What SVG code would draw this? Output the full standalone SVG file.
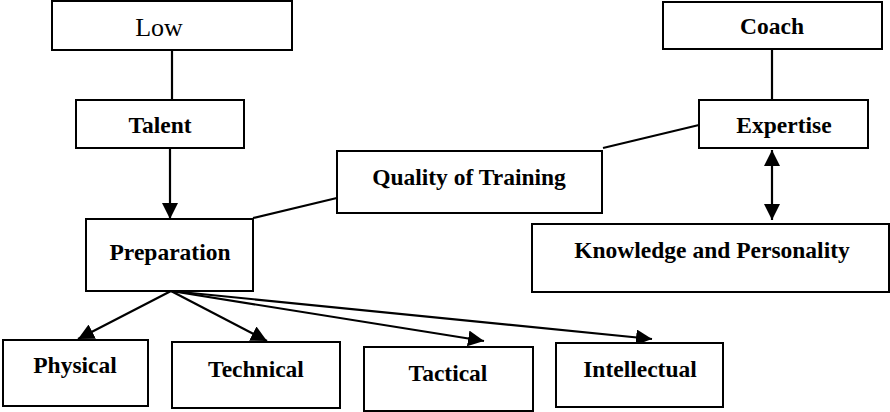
<svg xmlns="http://www.w3.org/2000/svg" width="890" height="412" viewBox="0 0 890 412">
  <style>
    .box { fill: #ffffff; stroke: #000000; stroke-width: 2; }
    .lbl { font-family: "Liberation Serif", "Times New Roman", serif; font-size: 23.5px; font-weight: bold; fill: #000000; text-anchor: middle; }
    .plain { font-family: "Liberation Serif", "Times New Roman", serif; font-size: 26px; fill: #000000; text-anchor: middle; }
    .link { fill: none; stroke: #000000; stroke-width: 2.2; }
  </style>
  <defs>
    <marker id="head" viewBox="0 0 16 16" refX="16" refY="8" markerWidth="16" markerHeight="16" markerUnits="userSpaceOnUse" orient="auto-start-reverse">
      <path d="M0,0 L16,8 L0,16 Z" fill="#000000"/>
    </marker>
  </defs>

  <rect width="890" height="412" fill="#ffffff"/>

  <g id="connectors">
    <line class="link" x1="172" y1="50" x2="172" y2="100"/>
    <line class="link" x1="170" y1="148" x2="170" y2="219" marker-end="url(#head)"/>
    <line class="link" x1="253" y1="218" x2="341" y2="197"/>
    <line class="link" x1="772" y1="49" x2="772" y2="100"/>
    <line class="link" x1="699" y1="125" x2="603" y2="148"/>
    <line class="link" x1="772" y1="150" x2="772" y2="220" marker-start="url(#head)" marker-end="url(#head)"/>
    <line class="link" x1="171" y1="291" x2="78" y2="339" marker-end="url(#head)"/>
    <line class="link" x1="171" y1="291" x2="267" y2="341" marker-end="url(#head)"/>
    <line class="link" x1="171" y1="291" x2="484" y2="341" marker-end="url(#head)"/>
    <line class="link" x1="171" y1="291" x2="652" y2="339" marker-end="url(#head)"/>
  </g>

  <g id="low">
    <rect class="box" x="52" y="1" width="240" height="49"/>
    <text class="plain" x="159" y="36">Low</text>
  </g>
  <g id="talent">
    <rect class="box" x="76" y="100" width="168" height="48"/>
    <text class="lbl" x="160" y="133">Talent</text>
  </g>
  <g id="quality">
    <rect class="box" x="337" y="151" width="265" height="62"/>
    <text class="lbl" x="469" y="185">Quality of Training</text>
  </g>
  <g id="preparation">
    <rect class="box" x="86" y="219" width="167" height="72"/>
    <text class="lbl" x="170" y="260">Preparation</text>
  </g>
  <g id="coach">
    <rect class="box" x="663" y="2" width="219" height="47"/>
    <text class="lbl" x="772" y="34">Coach</text>
  </g>
  <g id="expertise">
    <rect class="box" x="699" y="100" width="169" height="48"/>
    <text class="lbl" x="784" y="133">Expertise</text>
  </g>
  <g id="knowledge">
    <rect class="box" x="532" y="224" width="357" height="68"/>
    <text class="lbl" x="712" y="258">Knowledge and Personality</text>
  </g>
  <g id="physical">
    <rect class="box" x="3" y="340" width="145" height="66"/>
    <text class="lbl" x="75" y="373">Physical</text>
  </g>
  <g id="technical">
    <rect class="box" x="172" y="342" width="168" height="66"/>
    <text class="lbl" x="256" y="377">Technical</text>
  </g>
  <g id="tactical">
    <rect class="box" x="364" y="347" width="169" height="64"/>
    <text class="lbl" x="448" y="381">Tactical</text>
  </g>
  <g id="intellectual">
    <rect class="box" x="556" y="343" width="167" height="64"/>
    <text class="lbl" x="640" y="377">Intellectual</text>
  </g>
</svg>
